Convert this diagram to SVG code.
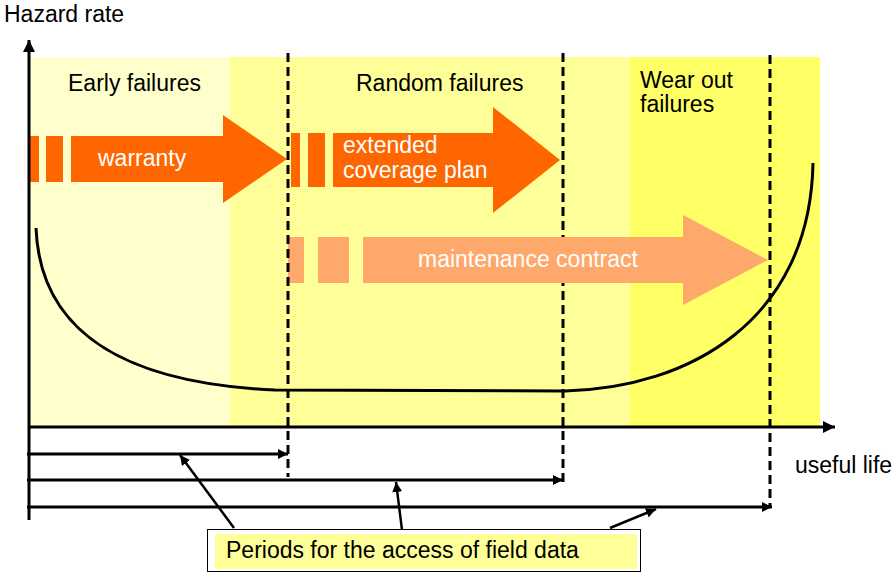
<svg xmlns="http://www.w3.org/2000/svg" width="894" height="573" viewBox="0 0 894 573">
<style>
text{font-family:"Liberation Sans",Arial,sans-serif;font-size:23px;fill:#000}
.w{fill:#fff}
.ax{stroke:#000;stroke-width:3;fill:none}
.th{stroke:#000;stroke-width:2.5;fill:none}
.dash{stroke:#000;stroke-width:3;stroke-dasharray:9 5;fill:none}
.o1{fill:#FF6600}
.o2{fill:#FFA86C}
</style>
<defs>
<marker id="ah" markerUnits="userSpaceOnUse" markerWidth="14" markerHeight="12" refX="12" refY="6" orient="auto"><path d="M0,0 L12,6 L0,12 z" fill="#000"/></marker>
<marker id="as" markerUnits="userSpaceOnUse" markerWidth="12" markerHeight="10" refX="10" refY="5" orient="auto"><path d="M0,0 L10,5 L0,10 z" fill="#000"/></marker>
</defs>
<g id="background">
<rect x="30" y="57" width="200" height="369" fill="#FFFFCC"/>
<rect x="230" y="57" width="400" height="369" fill="#FFFF99"/>
<rect x="630" y="57" width="190" height="369" fill="#FFFF66"/>
</g>
<g id="guide-563">
<line class="dash" x1="563" y1="53" x2="563" y2="482"/>
</g>
<g id="phase-labels">
<text x="68" y="91">Early failures</text>
<text x="356" y="91">Random failures</text>
<text x="640" y="88">Wear out</text>
<text x="640" y="112">failures</text>
</g>
<g id="warranty">
<rect class="o1" x="30" y="136" width="9" height="46"/>
<rect class="o1" x="46" y="136" width="17" height="46"/>
<path class="o1" d="M71,136 H223 V115 L287,159 L223,203 V182 H71 z"/>
<text class="w" x="98" y="166">warranty</text>
</g>
<g id="extended-coverage">
<rect class="o1" x="291" y="133" width="9" height="54"/>
<rect class="o1" x="308" y="133" width="17" height="54"/>
<path class="o1" d="M333,133 H493 V107 L560,160 L493,213 V187 H333 z"/>
<text class="w" x="343" y="153">extended</text>
<text class="w" x="343" y="178">coverage plan</text>
</g>
<g id="maintenance-contract">
<rect class="o2" x="288" y="237" width="16" height="46"/>
<rect class="o2" x="318" y="237" width="31" height="46"/>
<path class="o2" d="M363,237 H683 V215 L768,260 L683,305 V283 H363 z"/>
<text class="w" x="418" y="267">maintenance contract</text>
</g>
<g id="curve">
<path class="ax" d="M36,228 C40,330 120,383 275,390 L565,391 C690,388 810,320 813,163"/>
</g>
<g id="connectors">
<line class="dash" x1="288" y1="53" x2="288" y2="477"/>
<line class="dash" x1="770" y1="55" x2="770" y2="508"/>
<line class="ax" x1="29" y1="520" x2="29" y2="40" marker-end="url(#ah)"/>
<line class="ax" x1="29" y1="427" x2="835" y2="427" marker-end="url(#ah)"/>
<line class="ax" x1="27" y1="454" x2="288" y2="454" marker-end="url(#as)"/>
<line class="ax" x1="27" y1="480" x2="563" y2="480" marker-end="url(#as)"/>
<line class="ax" x1="27" y1="507" x2="772" y2="507" marker-end="url(#as)"/>
<line class="th" x1="234" y1="528" x2="180" y2="455" marker-end="url(#as)"/>
<line class="th" x1="402" y1="530" x2="396" y2="482" marker-end="url(#as)"/>
<line class="th" x1="610" y1="528" x2="656" y2="509" marker-end="url(#as)"/>
</g>
<g id="axis-labels">
<text x="4" y="22">Hazard rate</text>
<text x="795" y="473">useful life</text>
</g>
<g id="periods-box">
<rect x="207.5" y="529.5" width="433" height="42" fill="#fff" stroke="#000" stroke-width="1"/>
<rect x="215" y="534" width="422" height="35" fill="#FFFF99"/>
<text x="226" y="558">Periods for the access of field data</text>
</g>
</svg>
